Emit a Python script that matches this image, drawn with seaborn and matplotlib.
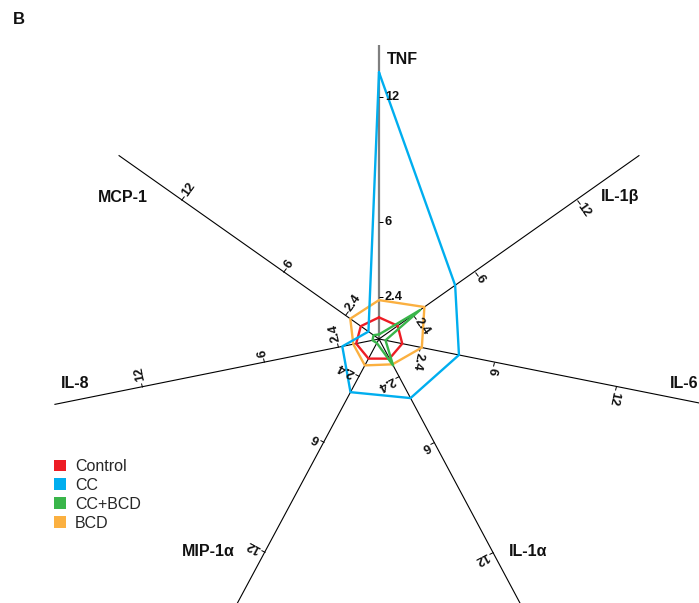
import numpy as np
import pandas as pd
import matplotlib
matplotlib.use("Agg")
import matplotlib.pyplot as plt
from matplotlib.markers import MarkerStyle
from matplotlib.transforms import Affine2D
from matplotlib.patches import Patch
import seaborn as sns

# Cytokine levels per treatment group
cytokines = ["TNF", "IL-1β", "IL-6", "IL-1α", "MIP-1α", "IL-8", "MCP-1"]
groups = ["Control", "CC", "CC+BCD", "BCD"]
control = [1.42, 1.48, 1.52, 1.45, 1.45, 1.50, 1.45]
cc = [13.2, 4.86, 4.30, 3.60, 3.28, 2.18, 1.00]
cc_bcd = [0.60, 2.80, 0.70, 1.82, 0.60, 0.70, 0.70]
bcd = [2.25, 3.05, 2.48, 1.76, 1.82, 1.64, 2.07]
tick_values = [2.4, 6, 12]
tick_labels = ["2.4", "6", "12"]

# Layout: spoke directions (deg), spoke extents, colours
spoke_deg = [90, 35.2, -11.3, -61.9, -118.2, -168.6, 144.8]
spoke_len = [14.5, 15.7, 16.3, 16.3, 16.3, 16.3, 15.7]
colors = {"Control": "#ED1C24", "CC": "#00AEEF", "CC+BCD": "#39B54A", "BCD": "#FBB040"}
draw_order = ["BCD", "Control", "CC", "CC+BCD"]

sns.set_theme(style="white")
plt.rcParams["font.family"] = ["Liberation Sans", "DejaVu Sans"]

W, H = 699, 603
fig = plt.figure(figsize=(W / 100, H / 100), dpi=100)

cx, cy = 379, 339          # centre of the web, pixels from top-left
rpx = 340                  # radius of the polar frame in pixels
rmin = 0.38
px_per_unit = 20.8
rmax = rmin + rpx / px_per_unit

ax = fig.add_axes([(cx - rpx) / W, (H - cy - rpx) / H, 2 * rpx / W, 2 * rpx / H],
                  projection="polar")
ax.set_facecolor("none")
ax.grid(False)
ax.spines["polar"].set_visible(False)

theta = np.deg2rad(spoke_deg)

# Spokes
for i, name in enumerate(cytokines):
    col = "#7f7f7f" if name == "TNF" else "black"
    lw = 1.6 if name == "TNF" else 0.8
    ax.plot([theta[i], theta[i]], [rmin, spoke_len[i]], color=col, lw=lw,
            zorder=1, solid_capstyle="butt")

# Group polygons
series = {"Control": control, "CC": cc, "CC+BCD": cc_bcd, "BCD": bcd}
rows = []
for g in groups:
    vals = series[g]
    for k in range(len(cytokines) + 1):
        j = k % len(cytokines)
        rows.append({"group": g, "order": k, "theta": theta[j], "value": vals[j]})
df = pd.DataFrame(rows)

sns.lineplot(data=df, x="theta", y="value", hue="group", hue_order=draw_order,
             palette=colors, sort=False, estimator=None, legend=False,
             linewidth=1.7, ax=ax, zorder=3)

# Tick marks and tick labels on every spoke
for i, name in enumerate(cytokines):
    d = spoke_deg[i]
    phi = np.deg2rad(d - 90)
    for v, lab in zip(tick_values, tick_labels):
        ax.plot(theta[i], v, linestyle="none", color="black", markersize=3.2,
                markeredgewidth=0.7,
                marker=MarkerStyle(1, transform=Affine2D().rotate_deg(d - 90)),
                zorder=2)
        off = 4.2
        ax.annotate(lab, xy=(theta[i], v),
                    xytext=(off * np.cos(phi), off * np.sin(phi)),
                    textcoords="offset points", rotation=d - 90,
                    rotation_mode="anchor", ha="left", va="center",
                    fontsize=9.2, fontweight="bold", color="#111111", zorder=4)

ax.set_xticks([])
ax.set_yticks([])
ax.set_xlabel("")
ax.set_ylabel("")
ax.set_rlim(rmin, rmax)

# Spoke names
label_px = {"TNF": (402, 59), "IL-1β": (620, 197), "IL-6": (684, 383),
            "IL-1α": (528, 551), "MIP-1α": (208, 551), "IL-8": (75, 383),
            "MCP-1": (123, 197)}
for name in cytokines:
    x, y = label_px[name]
    fig.text(x / W, 1 - y / H, name, ha="center", va="center",
             fontsize=11.5, fontweight="bold", color="#111111")

fig.text(13 / W, 1 - 20 / H, "B", ha="left", va="center", fontsize=12,
         fontweight="bold", color="#111111")

handles = [Patch(facecolor=colors[g], edgecolor="none", label=g) for g in groups]
fig.legend(handles=handles, loc="upper left", bbox_to_anchor=(54 / W, 1 - 459 / H),
           frameon=False, fontsize=11.5, handlelength=0.75, handleheight=0.75,
           handletextpad=0.55, labelspacing=0.24, borderaxespad=0, borderpad=0)

fig.savefig("out.png", dpi=100)
